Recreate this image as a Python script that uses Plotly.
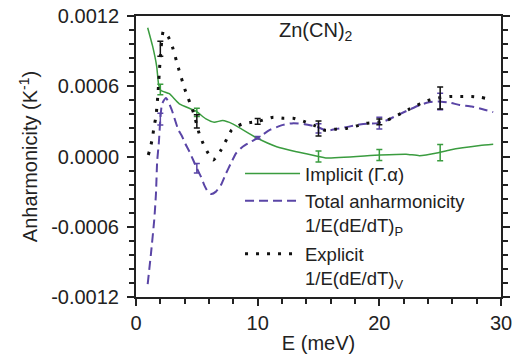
import plotly.graph_objects as go

# ---------------- data ----------------
imp_x = [0.96, 1.37, 1.7, 1.86, 2.05, 2.74, 3.56, 4.93, 5.75, 6.43, 7.12, 7.94, 9.9,
         11.56, 13.2, 15.0, 15.6, 20.05, 22.2, 23.3, 24.84, 25.8, 28.27, 29.36]
imp_y = [0.00110, 0.00094, 0.00077, 0.000615, 0.000564, 0.000536, 0.00045, 0.000387,
         0.000321, 0.000293, 0.000307, 0.000279, 0.00016, 0.000084, 0.000041, 0.0,
         -0.000012, 0.000013, 0.00002, 0.000007, 0.000033, 0.000056, 0.000093, 0.000104]

tot_x = [0.96, 1.23, 1.5, 1.64, 1.74, 1.88, 2.0, 2.14, 2.47, 2.93, 3.48, 3.75, 4.05, 4.4,
         4.7, 5.0, 5.34, 5.61, 5.9, 6.2, 6.57, 6.98, 7.4, 7.8, 8.22, 8.77, 9.45, 10.05,
         11.0, 12.1, 12.93, 13.85, 14.85, 15.67, 16.5, 17.5, 18.68, 19.9, 20.7, 21.55,
         22.46, 23.34, 24.16, 24.84, 25.8, 26.6, 27.6, 28.5, 29.36]
tot_y = [-0.00109, -0.00083, -0.00054, -0.00032, -0.00004, 0.00012, 0.00032, 0.00045,
         0.0005, 0.0004, 0.000227, 0.00018, 0.00011, 0.00004, -0.00003, -0.0001,
         -0.000173, -0.000244, -0.0003, -0.00032, -0.0003, -0.000244, -0.000144,
         -0.000058, 0.000027, 0.000084, 0.000127, 0.000161, 0.000227, 0.00027, 0.000285,
         0.000276, 0.000255, 0.000221, 0.000236, 0.000255, 0.000278, 0.000285, 0.000313,
         0.000356, 0.0004, 0.00044, 0.000465, 0.00047, 0.00046, 0.00044, 0.000427,
         0.000404, 0.000379]

exp_x = [1.01, 1.2, 1.37, 1.48, 1.64, 1.8, 1.97, 2.25, 2.66, 3.01, 3.53, 4.03, 4.71,
         5.18, 5.48, 5.86, 6.35, 6.96, 7.45, 7.86, 8.68, 9.37, 10.05, 11.28, 12.1, 12.93,
         13.8, 14.7, 15.5, 16.4, 17.3, 18.1, 18.96, 19.9, 20.7, 21.55, 22.46, 23.34,
         24.16, 24.84, 25.8, 26.68, 27.58, 28.4, 29.3]
exp_y = [0.000013, 0.000084, 0.00017, 0.000255, 0.00034, 0.000527, 0.0008, 0.00107,
         0.00102, 0.00093, 0.00074, 0.00057, 0.00038, 0.0002, 0.00012, 0.00004, -0.00003,
         0.00005, 0.000147, 0.000227, 0.000276, 0.00029, 0.0003, 0.000336, 0.000327,
         0.000327, 0.0003, 0.000264, 0.000225, 0.000233, 0.00024, 0.00026, 0.000284,
         0.000293, 0.000313, 0.000356, 0.000404, 0.00045, 0.000484, 0.0005, 0.000513,
         0.000513, 0.000513, 0.000504, 0.000484]

# error bars
imp_ex = [2, 5, 15, 20, 25]
imp_ey = [0.000573, 0.000377, 0.0, 0.000013, 0.000033]
imp_ee = [0.000045, 0.000036, 0.000047, 0.000047, 0.00007]

tot_ex = [2, 5, 10, 15, 20, 25]
tot_ey = [0.00032, -0.0001, 0.00016, 0.00024, 0.000285, 0.00047]
tot_ee = [0.00005, 0.00004, 0.00001, 0.00004, 0.00005, 0.00007]

exp_ex = [2, 5, 10, 15, 20, 25]
exp_ey = [0.00092, 0.0003, 0.0003, 0.00024, 0.000296, 0.0005]
exp_ee = [0.000064, 0.000057, 0.000025, 0.000064, 0.000024, 0.000094]

y_ticks = [-0.0012, -0.0006, 0.0, 0.0006, 0.0012]
y_ticktext = ["-0.0012", "-0.0006", "0.0000", "0.0006", "0.0012"]
x_ticks = [0, 10, 20, 30]

GREEN = "#3a9c3f"
PURPLE = "#5a45a6"
BLACK = "#111111"
FONT = "Liberation Sans, Arial, sans-serif"
FS = 20

fig = go.Figure()

def errtrace(x, y, e, color):
    return go.Scatter(x=x, y=y, mode="markers",
                      marker=dict(size=1, color="rgba(0,0,0,0)"),
                      error_y=dict(type="data", array=e, visible=True, color=color,
                                   thickness=1.5, width=3),
                      showlegend=False, hoverinfo="skip")

fig.add_trace(go.Scatter(x=imp_x, y=imp_y, mode="lines", name="Implicit (Γ.α)",
                         legendgroup="a",
                         line=dict(color=GREEN, width=1.5, shape="spline", smoothing=0.5)))
fig.add_trace(go.Scatter(x=tot_x, y=tot_y, mode="lines",
                         name="Total anharmonicity<br>1/E(dE/dT)<sub>P</sub>",
                         legendgroup="a",
                         line=dict(color=PURPLE, width=2, dash="9px,5px",
                                   shape="spline", smoothing=0.5)))
fig.add_trace(go.Scatter(x=exp_x, y=exp_y, mode="lines",
                         name="Explicit<br>1/E(dE/dT)<sub>V</sub>",
                         legendgroup="b",
                         line=dict(color=BLACK, width=3, dash="3px,8px",
                                   shape="spline", smoothing=0.5)))
fig.add_trace(errtrace(imp_ex, imp_ey, imp_ee, GREEN))
fig.add_trace(errtrace(tot_ex, tot_ey, tot_ee, PURPLE))
fig.add_trace(errtrace(exp_ex, exp_ey, exp_ee, BLACK))

fig.add_annotation(x=11.6, y=0.00107, xref="x", yref="y", xanchor="left", yanchor="middle",
                   text="Zn(CN)<sub>2</sub>", showarrow=False,
                   font=dict(family=FONT, size=FS, color="#222"))

axis_common = dict(showline=True, linecolor="#222", linewidth=2, showgrid=False,
                   zeroline=False, ticks="outside", tickcolor="#222", tickwidth=1.5,
                   ticklen=7, automargin=False,
                   tickfont=dict(family=FONT, size=FS, color="#222"))

fig.update_layout(
    width=523, height=362,
    margin=dict(l=136, r=22, t=16, b=65, autoexpand=False),
    paper_bgcolor="white", plot_bgcolor="white",
    font=dict(family=FONT, size=FS, color="#222"),
    xaxis=dict(range=[0, 30], tickvals=x_ticks, mirror=True,
               minor=dict(dtick=2, ticks="outside", ticklen=5, tickwidth=1.5, tickcolor="#222"),
               title=dict(text="E (meV)", font=dict(family=FONT, size=FS), standoff=3),
               **axis_common),
    yaxis=dict(range=[-0.0012, 0.0012], tickvals=y_ticks, ticktext=y_ticktext, mirror="ticks",
               minor=dict(dtick=0.00012, tick0=0, ticks="outside", ticklen=5, tickwidth=1.5,
                          tickcolor="#222"),
               ticklabelstandoff=4,
               title=dict(text="Anharmonicity (K<sup>-1</sup>)", font=dict(family=FONT, size=FS),
                          standoff=8),
               **axis_common),
    legend=dict(x=0.285, y=0.505, xanchor="left", yanchor="top", valign="top",
                itemwidth=55, traceorder="grouped",
                bgcolor="rgba(0,0,0,0)", font=dict(family=FONT, size=18.5, color="#222"),
                tracegroupgap=2),
    showlegend=True,
)

fig.write_html("out.html")
